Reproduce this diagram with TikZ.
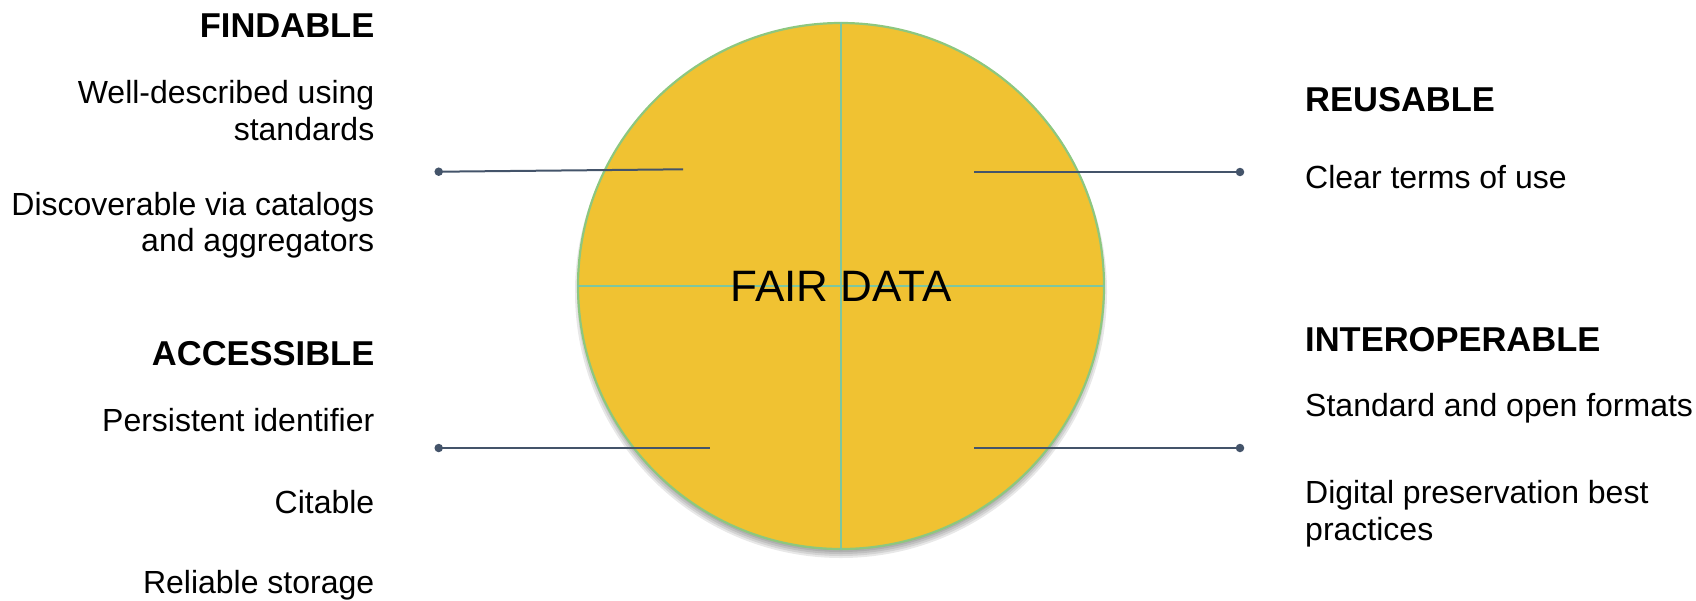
\documentclass[tikz,border=0pt]{standalone}
\usepackage{fontspec}
\setmainfont{Liberation Sans}
\definecolor{fairfill}{HTML}{F0C232}
\definecolor{fairedge}{HTML}{8DC77F}
\definecolor{crossline}{HTML}{7DC6A0}
\definecolor{linkcol}{HTML}{44546A}
\tikzset{
  head/.style={inner sep=0pt, font=\fontsize{34.5}{41}\selectfont\bfseries},
  body/.style={inner sep=0pt, font=\fontsize{32}{38}\selectfont},
  dotend/.style={circle, fill=linkcol, inner sep=0pt, minimum size=8.5pt},
  link/.style={draw=linkcol, line width=2pt},
  cross/.style={draw=crossline, line width=1.6pt},
  shadowring/.style={fill=black, fill opacity=0.09},
}
\begin{document}
\begin{tikzpicture}[x=1pt, y=-1pt]
\useasboundingbox (0,0) rectangle (1696,600);
% soft shadow below the circle
\foreach \r in {256,258,...,266}{
  \fill[shadowring] (841,292) circle[radius=\r pt];
}
% circle
\node[circle, minimum size=526pt, inner sep=0pt, fill=fairfill, draw=fairedge, line width=2.2pt] (c) at (841,286) {};
\draw[cross] (c.north) -- (c.south);
\draw[cross] (c.west) -- (c.east);
\node[inner sep=0pt, anchor=base, font=\fontsize{44}{50}\selectfont] (title) at (841,301) {FAIR DATA};
% left column
\node[head, anchor=base east] (find) at (374.5,37.7) {FINDABLE};
\node[body, anchor=base east] (f1a) at (374.5,103.3) {Well-described using};
\node[body, anchor=base east] (f1b) at (374.5,140) {standards};
\node[body, anchor=base east] (f2a) at (374.5,215) {Discoverable via catalogs};
\node[body, anchor=base east] (f2b) at (374.5,251.5) {and aggregators};
\node[head, anchor=base east] (acc) at (374.5,365.7) {ACCESSIBLE};
\node[body, anchor=base east] (a1) at (374.5,431) {Persistent identifier};
\node[body, anchor=base east] (a2) at (374.5,513.3) {Citable};
\node[body, anchor=base east] (a3) at (374.5,593.3) {Reliable storage};
% right column
\node[head, anchor=base west] (reu) at (1305,111.7) {REUSABLE};
\node[body, anchor=base west] (r1) at (1305,188.3) {Clear terms of use};
\node[head, anchor=base west] (inter) at (1305,351.7) {INTEROPERABLE};
\node[body, anchor=base west] (i1) at (1305,416.7) {Standard and open formats};
\node[body, anchor=base west] (i2a) at (1305,503.3) {Digital preservation best};
\node[body, anchor=base west] (i2b) at (1305,540) {practices};
% connectors
\node[dotend] (dF) at (438.7,171.7) {};
\coordinate (eF) at (683,169.3);
\node[dotend] (dA) at (438.7,448) {};
\coordinate (eA) at (710,448);
\node[dotend] (dR) at (1240,172) {};
\coordinate (eR) at (974,172);
\node[dotend] (dI) at (1240,448) {};
\coordinate (eI) at (974,448);
\draw[link] (dF.center) -- (eF);
\draw[link] (dA.center) -- (eA);
\draw[link] (dR.center) -- (eR);
\draw[link] (dI.center) -- (eI);
\end{tikzpicture}
\end{document}
